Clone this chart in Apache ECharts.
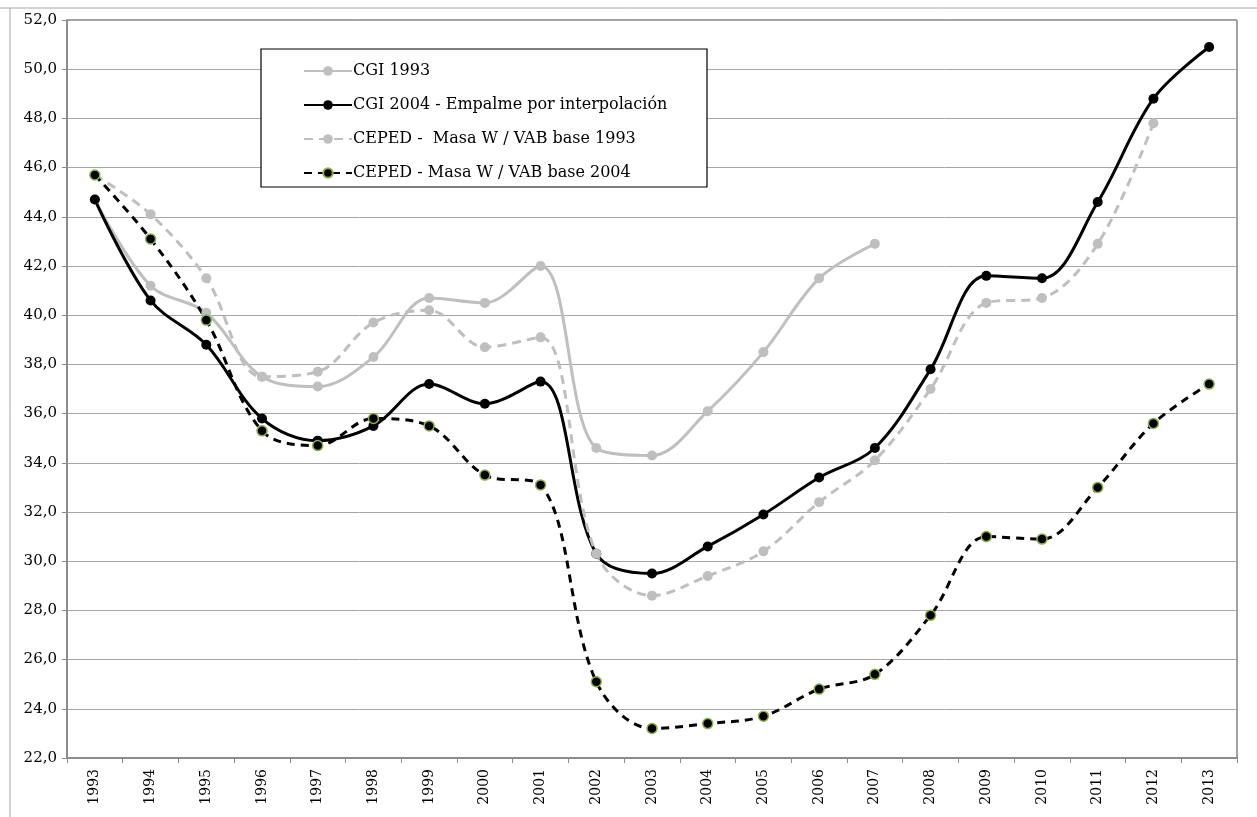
<!DOCTYPE html>
<html><head><meta charset="utf-8">
<script src="https://cdn.jsdelivr.net/npm/echarts@6/dist/echarts.min.js"></script>
<style>html,body{margin:0;padding:0;background:#fff}#c{width:1257px;height:817px}</style>
</head><body><div id="c"></div>
<script>
var years = ['1993','1994','1995','1996','1997','1998','1999','2000','2001','2002','2003','2004','2005','2006','2007','2008','2009','2010','2011','2012','2013'];
var cgi1993 = [44.7,41.2,40.1,37.5,37.1,38.3,40.7,40.5,42.0,34.6,34.3,36.1,38.5,41.5,42.9,null,null,null,null,null,null];
var cgi2004 = [44.7,40.6,38.8,35.8,34.9,35.5,37.2,36.4,37.3,30.3,29.5,30.6,31.9,33.4,34.6,37.8,41.6,41.5,44.6,48.8,50.9];
var ceped1993 = [45.7,44.1,41.5,37.5,37.7,39.7,40.2,38.7,39.1,30.3,28.6,29.4,30.4,32.4,34.1,37.0,40.5,40.7,42.9,47.8,null];
var ceped2004 = [45.7,43.1,39.8,35.3,34.7,35.8,35.5,33.5,33.1,25.1,23.2,23.4,23.7,24.8,25.4,27.8,31.0,30.9,33.0,35.6,37.2];
var seriesNames = ['CGI 1993','CGI 2004 - Empalme por interpolación','CEPED -  Masa W / VAB base 1993','CEPED - Masa W / VAB base 2004'];

var serif = "'DejaVu Serif', serif";
var chart = echarts.init(document.getElementById('c'));
var gray = '#bfbfbf';
function mk(name, data, color, type, mColor, mBorder) {
  return {
    name: name, type: 'line', data: data, smooth: 0.35, smoothConstraint: false, connectNulls: false,
    symbol: 'circle', symbolSize: 10,
    lineStyle: {color: color, width: 3, type: type},
    itemStyle: {color: mColor, borderColor: mBorder, borderWidth: mBorder ? 1.5 : 0},
    emphasis: {disabled: true}
  };
}
chart.setOption({
  animation: false,
  backgroundColor: '#fff',
  grid: {left: 67, right: 20, top: 20, bottom: 59, show: true, borderColor: '#404040', borderWidth: 1},
  graphic: [
    {type: 'line', shape: {x1: 0, y1: 8, x2: 1257, y2: 8}, style: {stroke: '#a6a6a6', lineWidth: 1}, z: -1},
    {type: 'line', shape: {x1: 10, y1: 8, x2: 10, y2: 817}, style: {stroke: '#a6a6a6', lineWidth: 1}, z: -1},
    {type: 'rect', shape: {x: 261, y: 49, width: 446, height: 138}, style: {fill: '#fff', stroke: '#000', lineWidth: 1.2}, z: 10}
  ],
  legend: {
    orient: 'vertical', left: 298, top: 58, itemGap: 18, itemWidth: 48, itemHeight: 12,
    data: seriesNames, z: 20,
    textStyle: {fontFamily: serif, fontSize: 16, color: '#000', padding: [0,0,0,-4]},
    selectedMode: false
  },
  xAxis: {
    type: 'category', data: years, boundaryGap: true,
    axisLine: {lineStyle: {color: '#8c8c8c', width: 2}},
    axisTick: {show: true, length: 5, lineStyle: {color: '#8c8c8c'}},
    axisLabel: {rotate: 90, margin: 11, fontFamily: serif, fontSize: 14, color: '#000', interval: 0},
    splitLine: {show: false}
  },
  yAxis: {
    type: 'value', min: 22, max: 52, interval: 2,
    axisLine: {show: true, lineStyle: {color: '#8c8c8c', width: 2}},
    axisTick: {show: true, length: 5, lineStyle: {color: '#8c8c8c'}},
    axisLabel: {fontFamily: serif, fontSize: 15, color: '#000', margin: 10,
      formatter: function (v) { return v.toFixed(1).replace('.', ','); }},
    splitLine: {lineStyle: {color: '#a6a6a6', width: 1}}
  },
  series: [
    mk(seriesNames[0], cgi1993, gray, 'solid', gray, null),
    mk(seriesNames[1], cgi2004, '#000', 'solid', '#000', null),
    mk(seriesNames[2], ceped1993, gray, [9, 6], gray, null),
    mk(seriesNames[3], ceped2004, '#000', [8, 6], '#000', '#8db24a')
  ]
});
</script></body></html>
